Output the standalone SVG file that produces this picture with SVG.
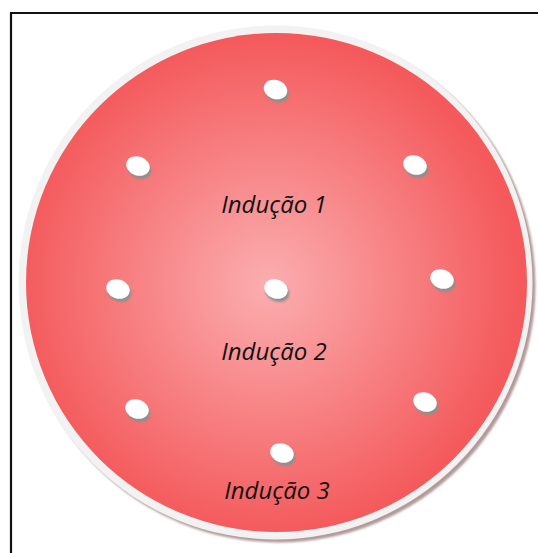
<svg xmlns="http://www.w3.org/2000/svg" width="538" height="553" viewBox="0 0 538 553">
<defs>
<radialGradient id="rg" cx="268" cy="285" r="252" gradientUnits="userSpaceOnUse">
<stop offset="0" stop-color="#fbaeb0"/>
<stop offset="1" stop-color="#f4595b"/>
</radialGradient>
<filter id="blur" x="-20%" y="-20%" width="140%" height="140%"><feGaussianBlur stdDeviation="0.8"/></filter>
<style>
.lbl{font-family:"Open Sans","Liberation Sans",sans-serif;font-style:italic;font-size:24px;fill:#111;text-anchor:middle}
.dot{fill:#fff}
.sh{fill:#8f8f8f;filter:url(#blur)}
</style>
<g id="hole">
<ellipse class="sh" cx="2.5" cy="2.5" rx="12" ry="9.5"/>
<ellipse class="dot" cx="0" cy="0" rx="12" ry="9.5"/>
</g>
</defs>
<rect width="538" height="553" fill="#fff"/>
<path d="M11 560 V13 H545" fill="none" stroke="#111" stroke-width="2.2"/>
<g id="plate">
<circle cx="278.5" cy="285.5" r="257" fill="#b39999" filter="url(#blur)"/>
<circle cx="275.5" cy="282.5" r="257" fill="#f2f2f2"/>
<ellipse cx="276.5" cy="282.5" rx="250.5" ry="249.5" fill="url(#rg)"/>
</g>
<g id="holes">
<use href="#hole" transform="translate(275.5,89.5) rotate(20)"/>
<use href="#hole" transform="translate(138,166) rotate(20)"/>
<use href="#hole" transform="translate(415,165) rotate(20)"/>
<use href="#hole" transform="translate(118,289) rotate(20)"/>
<use href="#hole" transform="translate(276,289) rotate(20)"/>
<use href="#hole" transform="translate(442,279) rotate(20)"/>
<use href="#hole" transform="translate(137,409) rotate(20)"/>
<use href="#hole" transform="translate(425,402) rotate(20)"/>
<use href="#hole" transform="translate(282,453) rotate(20)"/>
</g>
<g id="labels">
<text class="lbl" x="274" y="213">Indução 1</text>
<text class="lbl" x="274" y="360">Indução 2</text>
<text class="lbl" x="277" y="499">Indução 3</text>
</g>
</svg>
